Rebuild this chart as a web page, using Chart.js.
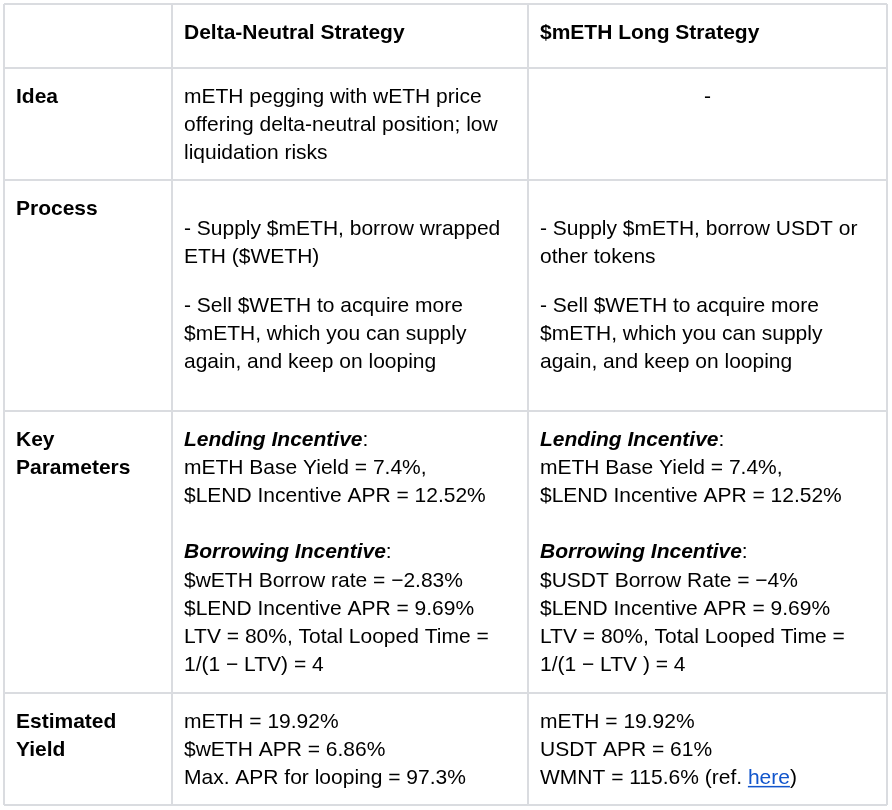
<!DOCTYPE html>
<html>
<head>
<meta charset="utf-8">
<title>mETH strategies</title>
<script src="https://cdn.jsdelivr.net/npm/chart.js@4.4.0/dist/chart.umd.min.js"></script>
<style>
  html, body { margin: 0; padding: 0; background: #ffffff; }
  #table { display: block; }
</style>
</head>
<body>
<canvas id="table" width="892" height="810"></canvas>
<script>
// --- Table content ---
const headers = ['', 'Delta-Neutral Strategy', '$mETH Long Strategy'];

const rowLabels = [
    ['Idea'],
    ['Process'],
    ['Key', 'Parameters'],
    ['Estimated', 'Yield']
];

// '' marks a paragraph gap
const deltaNeutral = [
    ['mETH pegging with wETH price', 'offering delta-neutral position; low', 'liquidation risks'],
    ['', '- Supply $mETH, borrow wrapped', 'ETH ($WETH)', '', '- Sell $WETH to acquire more', '$mETH, which you can supply', 'again, and keep on looping'],
    ['Lending Incentive:', 'mETH Base Yield = 7.4%,', '$LEND Incentive APR = 12.52%', '', 'Borrowing Incentive:', '$wETH Borrow rate = \u22122.83%', '$LEND Incentive APR = 9.69%', 'LTV = 80%, Total Looped Time =', '1/(1 \u2212 LTV) = 4'],
    ['mETH = 19.92%', '$wETH APR = 6.86%', 'Max. APR for looping = 97.3%']
];

const methLong = [
    ['-'],
    ['', '- Supply $mETH, borrow USDT or', 'other tokens', '', '- Sell $WETH to acquire more', '$mETH, which you can supply', 'again, and keep on looping'],
    ['Lending Incentive:', 'mETH Base Yield = 7.4%,', '$LEND Incentive APR = 12.52%', '', 'Borrowing Incentive:', '$USDT Borrow Rate = \u22124%', '$LEND Incentive APR = 9.69%', 'LTV = 80%, Total Looped Time =', '1/(1 \u2212 LTV ) = 4'],
    ['mETH = 19.92%', 'USDT APR = 61%', 'WMNT = 115.6% (ref. here)']
];

const subheadings = ['Lending Incentive', 'Borrowing Incentive'];
const linkText = 'here';

// --- Layout (scale units = pixels of the table) ---
const colEdges = [4, 172, 528, 887];
const rowEdges = [4, 68, 180, 411, 693, 805];
const cellPad = 12;
const firstBaseline = 34.5;
const lineHeight = 28.2;
const gapByRow = [0, 20.5, 28.2, 0];

const FONT = '"Liberation Sans", Arial, Helvetica, sans-serif';
const SIZE = 21;
const TEXT_COLOR = '#000000';
const LINK_COLOR = '#1155cc';
const BORDER_COLOR = '#dadce0';

function setFont(ctx, style) {
    ctx.font = `${style} ${SIZE}px ${FONT}`;
}

// Draw one line, splitting out subheadings (bold italic) and the link word
function drawLine(ctx, text, x, y, baseStyle) {
    let rest = text;
    let cx = x;
    ctx.fillStyle = TEXT_COLOR;

    const heading = subheadings.find(h => rest.startsWith(h));
    if (heading) {
        setFont(ctx, 'italic bold');
        ctx.fillText(heading, cx, y);
        cx += ctx.measureText(heading).width;
        rest = rest.slice(heading.length);
    }

    setFont(ctx, baseStyle);
    const li = baseStyle === 'normal' ? rest.indexOf(linkText) : -1;
    if (li < 0) {
        ctx.fillText(rest, cx, y);
        return;
    }
    const before = rest.slice(0, li);
    const after = rest.slice(li + linkText.length);
    ctx.fillText(before, cx, y);
    cx += ctx.measureText(before).width;

    ctx.fillStyle = LINK_COLOR;
    ctx.fillText(linkText, cx, y);
    const w = ctx.measureText(linkText).width;
    ctx.fillRect(cx, y + 2, w, 1.5);
    cx += w;

    ctx.fillStyle = TEXT_COLOR;
    ctx.fillText(after, cx, y);
}

function drawCell(ctx, xs, ys, lines, col, row, style) {
    const centered = lines.length === 1 && lines[0] === '-';
    const x = centered
        ? (colEdges[col] + colEdges[col + 1]) / 2
        : colEdges[col] + cellPad;
    let b = rowEdges[row] + firstBaseline;

    ctx.textAlign = centered ? 'center' : 'left';
    lines.forEach(line => {
        if (line === '') {
            b += gapByRow[row - 1] || 0;
            return;
        }
        drawLine(ctx, line, xs.getPixelForValue(x), ys.getPixelForValue(b), style);
        b += lineHeight;
    });
    ctx.textAlign = 'left';
}

const tableText = {
    id: 'tableText',
    afterDraw(chart) {
        const ctx = chart.ctx;
        const xs = chart.scales.x;
        const ys = chart.scales.y;
        ctx.save();
        ctx.textBaseline = 'alphabetic';

        headers.forEach((h, c) => {
            if (h) drawCell(ctx, xs, ys, [h], c, 0, 'bold');
        });
        rowLabels.forEach((lines, r) => drawCell(ctx, xs, ys, lines, 0, r + 1, 'bold'));
        deltaNeutral.forEach((lines, r) => drawCell(ctx, xs, ys, lines, 1, r + 1, 'normal'));
        methLong.forEach((lines, r) => drawCell(ctx, xs, ys, lines, 2, r + 1, 'normal'));

        ctx.restore();
    }
};

// grid lines only on the cell borders
const edgeTicks = edges => scale => {
    scale.ticks = edges.map(value => ({ value }));
};

new Chart(document.getElementById('table'), {
    type: 'scatter',
    data: { datasets: [] },
    options: {
        responsive: false,
        animation: false,
        devicePixelRatio: 1,
        layout: {
            padding: {
                left: colEdges[0],
                right: 892 - colEdges[colEdges.length - 1],
                top: rowEdges[0],
                bottom: 810 - rowEdges[rowEdges.length - 1]
            }
        },
        plugins: {
            legend: { display: false },
            tooltip: { enabled: false }
        },
        scales: {
            x: {
                type: 'linear',
                min: colEdges[0],
                max: colEdges[colEdges.length - 1],
                afterBuildTicks: edgeTicks(colEdges),
                afterFit: scale => { scale.height = 0; },
                ticks: { display: false },
                border: { display: false },
                grid: { color: BORDER_COLOR, lineWidth: 2, drawTicks: false, tickLength: 0 }
            },
            y: {
                type: 'linear',
                reverse: true,
                min: rowEdges[0],
                max: rowEdges[rowEdges.length - 1],
                afterBuildTicks: edgeTicks(rowEdges),
                afterFit: scale => { scale.width = 0; },
                ticks: { display: false },
                border: { display: false },
                grid: { color: BORDER_COLOR, lineWidth: 2, drawTicks: false, tickLength: 0 }
            }
        }
    },
    plugins: [tableText]
});
</script>
</body>
</html>
